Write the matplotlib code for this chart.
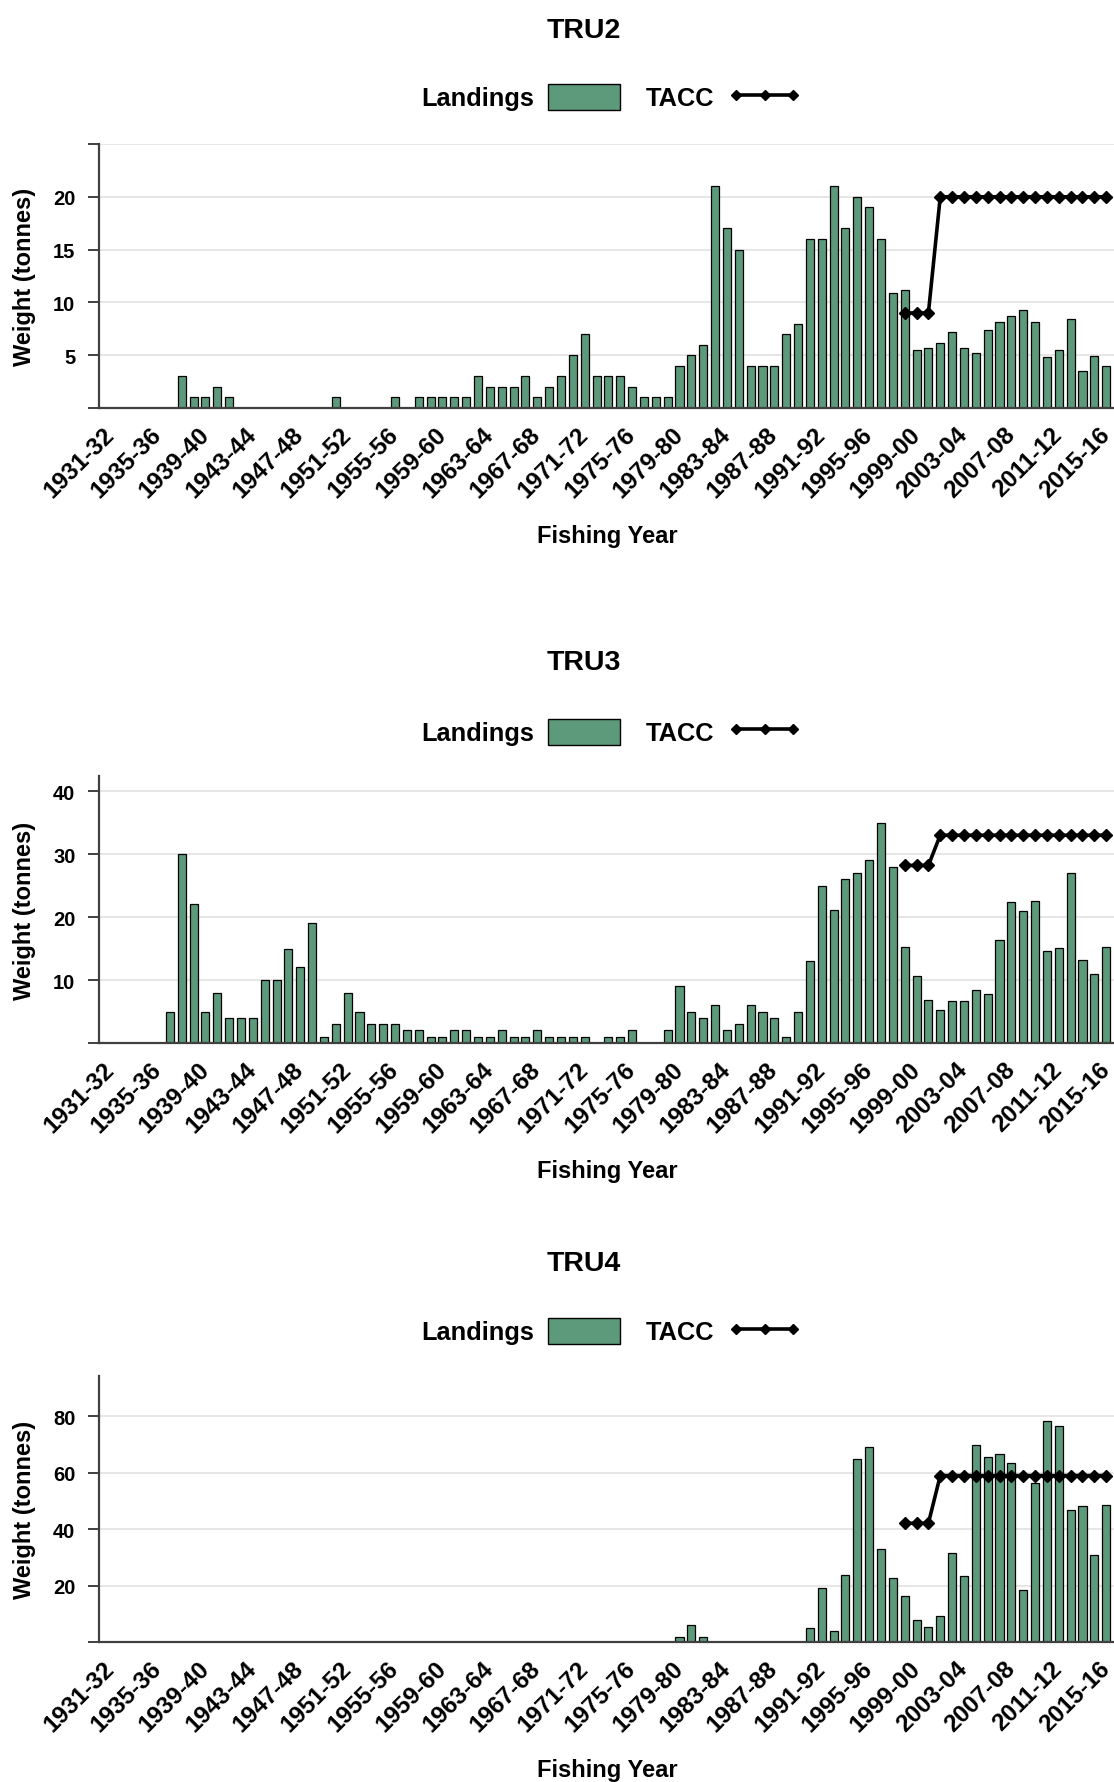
import matplotlib
matplotlib.use("Agg")
import matplotlib.pyplot as plt
from matplotlib.patches import Patch
from matplotlib.lines import Line2D
from matplotlib.transforms import ScaledTranslation
import numpy as np

# ---------------- data ----------------
start_year = 1931
end_year = 2015
fishing_years = [f"{y}-{(y + 1) % 100:02d}" for y in range(start_year, end_year + 1)]

tru2_landings = [0, 0, 0, 0, 0, 0, 3, 1, 1, 2, 1, 0, 0, 0, 0, 0, 0, 0, 0, 1,
                 0, 0, 0, 0, 1, 0, 1, 1, 1, 1, 1, 3, 2, 2, 2, 3, 1, 2, 3, 5,
                 7, 3, 3, 3, 2, 1, 1, 1, 4, 5, 6, 21, 17, 15, 4, 4, 4, 7, 8, 16,
                 16, 21, 17, 20, 19, 16, 10.9, 11.2, 5.5, 5.7, 6.2, 7.2, 5.7, 5.2, 7.4, 8.1, 8.7, 9.3, 8.1, 4.8,
                 5.5, 8.4, 3.5, 4.9, 4.0]

tru3_landings = [0, 0, 0, 0, 0, 5, 30, 22, 5, 8, 4, 4, 4, 10, 10, 15, 12, 19, 1, 3,
                 8, 5, 3, 3, 3, 2, 2, 1, 1, 2, 2, 1, 1, 2, 1, 1, 2, 1, 1, 1,
                 1, 0, 1, 1, 2, 0, 0, 2, 9, 5, 4, 6, 2, 3, 6, 5, 4, 1, 5, 13,
                 25, 21.2, 26, 27, 29, 35, 28, 15.3, 10.7, 6.9, 5.2, 6.7, 6.7, 8.4, 7.8, 16.3, 22.4, 20.9, 22.6, 14.6,
                 15.1, 27.0, 13.2, 11.0, 15.3]

tru4_landings = [0, 0, 0, 0, 0, 0, 0, 0, 0, 0, 0, 0, 0, 0, 0, 0, 0, 0, 0, 0,
                 0, 0, 0, 0, 0, 0, 0, 0, 0, 0, 0, 0, 0, 0, 0, 0, 0, 0, 0, 0,
                 0, 0, 0, 0, 0, 0, 0, 0, 1.8, 6.0, 1.8, 0, 0, 0, 0, 0, 0, 0, 0, 5.0,
                 19.0, 3.9, 23.9, 65.0, 69.3, 33.0, 22.8, 16.3, 7.7, 5.4, 9.2, 31.4, 23.3, 69.9, 65.6, 66.5, 63.4, 18.6, 56.3, 78.5,
                 76.4, 46.7, 48.2, 30.9, 48.7]

tacc_start = "1998-99"
tru2_tacc = [9, 9, 9, 20, 20, 20, 20, 20, 20, 20, 20, 20, 20, 20, 20, 20, 20, 20]
tru3_tacc = [28.2, 28.2, 28.2, 33, 33, 33, 33, 33, 33, 33, 33, 33, 33, 33, 33, 33, 33, 33]
tru4_tacc = [42.1, 42.1, 42.1, 59, 59, 59, 59, 59, 59, 59, 59, 59, 59, 59, 59, 59, 59, 59]

stocks = ["TRU2", "TRU3", "TRU4"]

# ---------------- style ----------------
W, H = 1114, 1783
BAR = "#5c9a7b"
FONT = ["Liberation Sans", "Arial", "DejaVu Sans"]
plt.rcParams["font.family"] = FONT
plt.rcParams["font.weight"] = "bold"

fig = plt.figure(figsize=(W / 100, H / 100), dpi=100)

panels = [
    dict(name=stocks[0], land=tru2_landings, tacc=tru2_tacc, top=145, bottom=409,
         ylim=25, ticks=[0, 5, 10, 15, 20, 25], labels=["", "5", "10", "15", "20", ""],
         title_y=31, leg_y=98),
    dict(name=stocks[1], land=tru3_landings, tacc=tru3_tacc, top=777, bottom=1044,
         ylim=42.4, ticks=[0, 10, 20, 30, 40], labels=["", "10", "20", "30", "40"],
         title_y=663, leg_y=733),
    dict(name=stocks[2], land=tru4_landings, tacc=tru4_tacc, top=1377, bottom=1643,
         ylim=94.3, ticks=[0, 20, 40, 60, 80], labels=["", "20", "40", "60", "80"],
         title_y=1264, leg_y=1332),
]

left_px = 99
x = np.arange(len(fishing_years))
tacc_i0 = fishing_years.index(tacc_start)
tacc_x = np.arange(tacc_i0, tacc_i0 + len(tru2_tacc))
shift = ScaledTranslation(-3 / 100, 0, fig.dpi_scale_trans)

for p in panels:
    ax = fig.add_axes([left_px / W, 1 - p["bottom"] / H, (W - left_px) / W,
                       (p["bottom"] - p["top"]) / H])
    ax.bar(x, p["land"], width=0.68, color=BAR, edgecolor="black", linewidth=0.9, zorder=2)
    ax.plot(tacc_x, p["tacc"], color="black", linewidth=2.6, marker="D",
            markersize=6, zorder=3)
    ax.set_xlim(-0.98, 84.66)
    ax.set_ylim(0, p["ylim"])
    ax.set_yticks(p["ticks"])
    ax.set_yticklabels(p["labels"])
    ax.yaxis.grid(True, color="#e4e4e4", linewidth=1.3, zorder=0)
    ax.set_axisbelow(True)
    for s in ["top", "right"]:
        ax.spines[s].set_visible(False)
    for s in ["left", "bottom"]:
        ax.spines[s].set_color("#404040")
        ax.spines[s].set_linewidth(1.6)
        ax.spines[s].set_zorder(4)
    ax.tick_params(axis="y", length=8, width=1.4, color="#404040", pad=9,
                   labelsize=14.5)
    ax.set_xticks(x[::4])
    ax.set_xticklabels(fishing_years[::4], rotation=45, ha="right", va="center",
                       rotation_mode="anchor", fontsize=17.5, fontweight="bold")
    for lab in ax.get_xticklabels():
        lab.set_transform(lab.get_transform() + shift)
    ax.tick_params(axis="x", length=0, pad=16)
    ax.set_ylabel("Weight (tonnes)", fontsize=17, fontweight="bold")
    ax.yaxis.set_label_coords((36 - left_px) / (W - left_px), 0.5)
    hpx = p["bottom"] - p["top"]
    ax.set_xlabel("Fishing Year", fontsize=17, fontweight="bold")
    ax.xaxis.set_label_coords((607 - left_px) / (W - left_px), -(525 - 409) / hpx)

    fig.text(584 / W, 1 - p["title_y"] / H, p["name"], ha="center", va="center",
             fontsize=20.5, fontweight="bold")
    handles = [Patch(facecolor=BAR, edgecolor="black", linewidth=1.0),
               Line2D([0], [0], color="black", linewidth=2.6, marker="D", markersize=5)]
    fig.legend(handles, ["Landings", "TACC"], ncol=2, markerfirst=False, numpoints=3,
               frameon=False, loc="center", bbox_to_anchor=(611 / W, 1 - p["leg_y"] / H),
               prop=dict(size=18.3, weight="bold"), handlelength=2.85,
               handleheight=1.25, columnspacing=1.0, handletextpad=0.55)

fig.savefig("out.png", dpi=100)
